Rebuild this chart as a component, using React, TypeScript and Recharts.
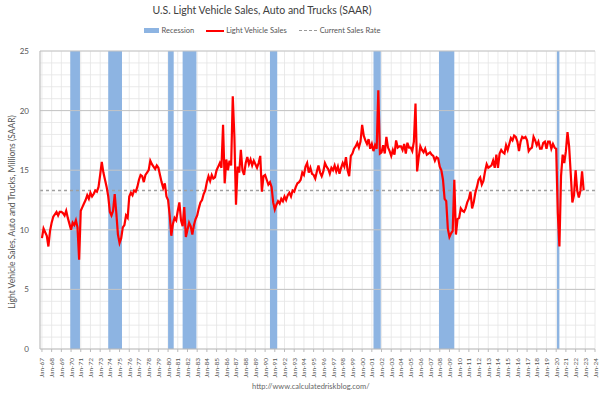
import {
  ComposedChart,
  Line,
  XAxis,
  YAxis,
  CartesianGrid,
  ReferenceArea,
  ReferenceLine,
} from "recharts";

// sales, millions SAAR, six readings a year (Jan, Mar, May, Jul, Sep, Nov)
const firstYear = 1967;
const sales: number[][] = [
  [9.3, 10.1, 9.8, 9.5, 8.6, 9.9], // 1967
  [10.6, 11.1, 11.3, 11.5, 11.2, 11.5],
  [11.5, 11.4, 11.2, 11.6, 11.0, 10.5],
  [10.0, 10.6, 10.4, 10.8, 10.2, 7.5], // 1970
  [11.6, 11.9, 12.2, 12.5, 12.9, 12.6],
  [13.1, 12.8, 13.0, 13.3, 13.2, 13.6],
  [14.6, 15.7, 14.8, 14.2, 13.6, 12.8],
  [11.5, 11.2, 11.6, 13.0, 11.4, 9.6],
  [8.9, 9.3, 10.2, 10.4, 11.2, 11.0], // 1975
  [12.8, 13.1, 12.9, 13.3, 13.2, 13.6],
  [14.2, 14.6, 14.5, 14.0, 14.6, 14.8],
  [15.0, 15.8, 15.5, 15.3, 15.1, 15.4],
  [15.2, 14.6, 14.0, 13.5, 13.9, 12.8],
  [12.5, 11.2, 9.5, 10.5, 11.0, 10.8], // 1980
  [11.6, 12.3, 10.8, 10.3, 11.9, 9.4],
  [10.0, 10.6, 10.3, 9.6, 10.4, 10.9],
  [11.2, 11.8, 12.3, 12.5, 13.0, 13.3],
  [14.0, 14.5, 14.1, 14.6, 14.3, 14.4],
  [15.0, 15.3, 15.6, 15.2, 18.8, 13.9], // 1985
  [15.9, 15.0, 15.8, 15.4, 21.2, 17.8],
  [12.1, 15.3, 14.8, 16.7, 15.0, 14.6],
  [15.6, 16.1, 15.5, 15.9, 15.4, 15.8],
  [15.5, 15.2, 15.6, 16.2, 13.2, 14.5],
  [14.6, 14.2, 13.8, 14.0, 13.6, 12.3], // 1990
  [11.7, 12.1, 12.4, 12.2, 12.6, 12.4],
  [12.8, 12.5, 12.9, 13.1, 12.8, 13.3],
  [13.2, 13.6, 13.9, 14.0, 14.2, 14.8],
  [14.6, 15.3, 15.6, 14.8, 15.2, 14.7],
  [14.6, 14.3, 14.9, 15.4, 14.8, 14.5], // 1995
  [14.9, 15.6, 15.3, 15.1, 14.7, 15.2],
  [15.0, 15.4, 14.9, 15.3, 14.7, 15.2],
  [15.6, 15.3, 16.1, 15.0, 14.5, 16.2],
  [16.4, 16.8, 17.0, 17.3, 16.9, 17.4],
  [18.8, 17.9, 17.5, 17.2, 17.6, 16.8], // 2000
  [17.2, 16.6, 17.1, 16.8, 21.7, 16.4],
  [16.5, 17.1, 16.4, 17.8, 16.9, 16.6],
  [16.2, 16.7, 16.3, 17.5, 16.9, 17.0],
  [17.0, 16.7, 17.2, 16.4, 17.3, 16.9],
  [16.9, 16.6, 17.4, 20.6, 14.9, 16.1], // 2005
  [17.0, 16.7, 16.5, 16.8, 16.3, 16.4],
  [16.5, 16.3, 16.2, 15.8, 16.1, 16.0],
  [15.3, 15.0, 14.2, 12.6, 12.4, 10.1],
  [9.4, 9.7, 9.9, 14.2, 9.6, 10.9],
  [11.0, 11.8, 11.6, 11.5, 11.8, 12.3], // 2010
  [12.6, 13.2, 11.8, 12.3, 13.1, 13.6],
  [14.2, 14.4, 13.8, 14.1, 14.9, 15.5],
  [15.2, 15.3, 15.4, 15.8, 15.2, 16.3],
  [15.2, 16.4, 16.7, 16.5, 16.4, 17.1],
  [16.7, 17.2, 17.7, 17.5, 17.9, 17.8], // 2015
  [17.4, 16.6, 17.4, 17.8, 17.7, 17.8],
  [17.5, 16.6, 16.8, 16.9, 17.8, 17.5],
  [17.1, 17.4, 16.8, 16.8, 17.3, 17.4],
  [16.8, 17.4, 17.4, 16.8, 17.2, 16.9],
  [16.8, 11.4, 8.6, 14.5, 16.3, 15.6], // 2020
  [16.6, 18.2, 17.0, 14.7, 12.3, 12.9],
  [15.0, 13.3, 12.7, 13.3, 14.9, 13.3],
];

const currentRate = 13.3;

// NBER recessions, start and end as decimal years
const recessions: [number, number][] = [
  [1969.92, 1970.92],
  [1973.83, 1975.25],
  [1980.0, 1980.58],
  [1981.5, 1982.92],
  [1990.5, 1991.25],
  [2001.17, 2001.92],
  [2007.92, 2009.5],
  [2020.08, 2020.33],
];

const xTicks = [
  1967, 1968, 1969, 1970, 1971, 1972, 1973, 1974, 1975, 1976, 1977, 1978,
  1979, 1980, 1981, 1982, 1983, 1984, 1985, 1986, 1987, 1988, 1989, 1990,
  1991, 1992, 1993, 1994, 1995, 1996, 1997, 1998, 1999, 2000, 2001, 2002,
  2003, 2004, 2005, 2006, 2007, 2008, 2009, 2010, 2011, 2012, 2013, 2014,
  2015, 2016, 2017, 2018, 2019, 2020, 2021, 2022, 2023, 2024,
];
const yTicks = [
  0, 1, 2, 3, 4, 5, 6, 7, 8, 9, 10, 11, 12, 13, 14, 15, 16, 17, 18, 19, 20,
  21, 22, 23, 24, 25,
];
const yMajor = [5, 10, 15, 20, 25];

const data = sales.flatMap((row, i) =>
  row.map((v, j) => ({ date: firstYear + i + j / 6, sales: v }))
);

const font = "Lato, 'Open Sans', sans-serif";

const XTick = ({ x, y, payload }: any) => (
  <text
    x={x}
    y={y + 4}
    transform={`rotate(-90, ${x}, ${y + 4})`}
    textAnchor="end"
    dominantBaseline="central"
    fontSize={6.5}
    fill="#555"
    fontFamily={font}
  >
    {`Jan-${String(payload.value).slice(2)}`}
  </text>
);

const YTick = ({ x, y, payload }: any) =>
  payload.value % 5 === 0 ? (
    <text
      x={x - 3}
      y={y}
      textAnchor="end"
      dominantBaseline="central"
      fontSize={8}
      fill="#555"
      fontFamily={font}
    >
      {payload.value}
    </text>
  ) : (
    <g />
  );

export default function App() {
  return (
    <div
      style={{
        position: "absolute",
        left: 0,
        top: 0,
        width: 600,
        height: 397,
        background: "#fff",
        fontFamily: font,
      }}
    >
      <div
        style={{
          position: "absolute",
          top: 4,
          left: 0,
          width: 524,
          textAlign: "center",
          fontSize: 10.5,
          color: "#404040",
        }}
      >
        U.S. Light Vehicle Sales, Auto and Trucks (SAAR)
      </div>
      <div
        style={{
          position: "absolute",
          top: 26,
          left: 0,
          width: 524,
          display: "flex",
          justifyContent: "center",
          alignItems: "center",
          fontSize: 7.5,
          color: "#555",
          gap: 12,
        }}
      >
        <span style={{ display: "flex", alignItems: "center", gap: 3 }}>
          <span style={{ width: 15, height: 5, background: "#8db4e2" }} />
          Recession
        </span>
        <span style={{ display: "flex", alignItems: "center", gap: 2 }}>
          <span style={{ width: 18, height: 2, background: "#ff0000" }} />
          Light Vehicle Sales
        </span>
        <span style={{ display: "flex", alignItems: "center", gap: 3 }}>
          <span style={{ width: 18, borderTop: "1.5px dashed #999" }} />
          Current Sales Rate
        </span>
      </div>
      <ComposedChart
        width={600}
        height={397}
        data={data}
        margin={{ top: 51, right: 5, bottom: 12, left: 0 }}
      >
        <CartesianGrid stroke="#e4e4e4" strokeWidth={0.8} />
        {recessions.map(([a, b]) => (
          <ReferenceArea
            key={a}
            x1={a}
            x2={b}
            y1={0}
            y2={25}
            fill="#8db4e2"
            fillOpacity={1}
            stroke="none"
          />
        ))}
        {yMajor.map((v) => (
          <ReferenceLine key={v} y={v} stroke="#c4c4c4" strokeWidth={1} />
        ))}
        <XAxis
          dataKey="date"
          type="number"
          domain={[1966.8, 2024]}
          ticks={xTicks}
          interval={0}
          tick={<XTick />}
          height={36}
          stroke="#bbb"
          tickSize={3}
        />
        <YAxis
          type="number"
          domain={[0, 25]}
          ticks={yTicks}
          interval={0}
          tick={<YTick />}
          width={40}
          stroke="#bbb"
          tickLine={false}
          label={{
            value: "Light Vehicle Sales, Auto and Trucks, Millions (SAAR)",
            angle: -90,
            position: "insideLeft",
            offset: 12,
            dy: 12,
            style: { fontSize: 8.5, fill: "#555", textAnchor: "middle" },
          }}
        />
        <ReferenceLine
          y={currentRate}
          stroke="#a0a0a0"
          strokeWidth={1.5}
          strokeDasharray="3 3"
        />
        <Line
          type="linear"
          dataKey="sales"
          stroke="#ff0000"
          strokeWidth={2.2}
          dot={false}
          isAnimationActive={false}
        />
      </ComposedChart>
      <div
        style={{
          position: "absolute",
          top: 382,
          left: 252,
          fontSize: 7.5,
          color: "#666",
        }}
      >
        http://www.calculatedriskblog.com/
      </div>
    </div>
  );
}
